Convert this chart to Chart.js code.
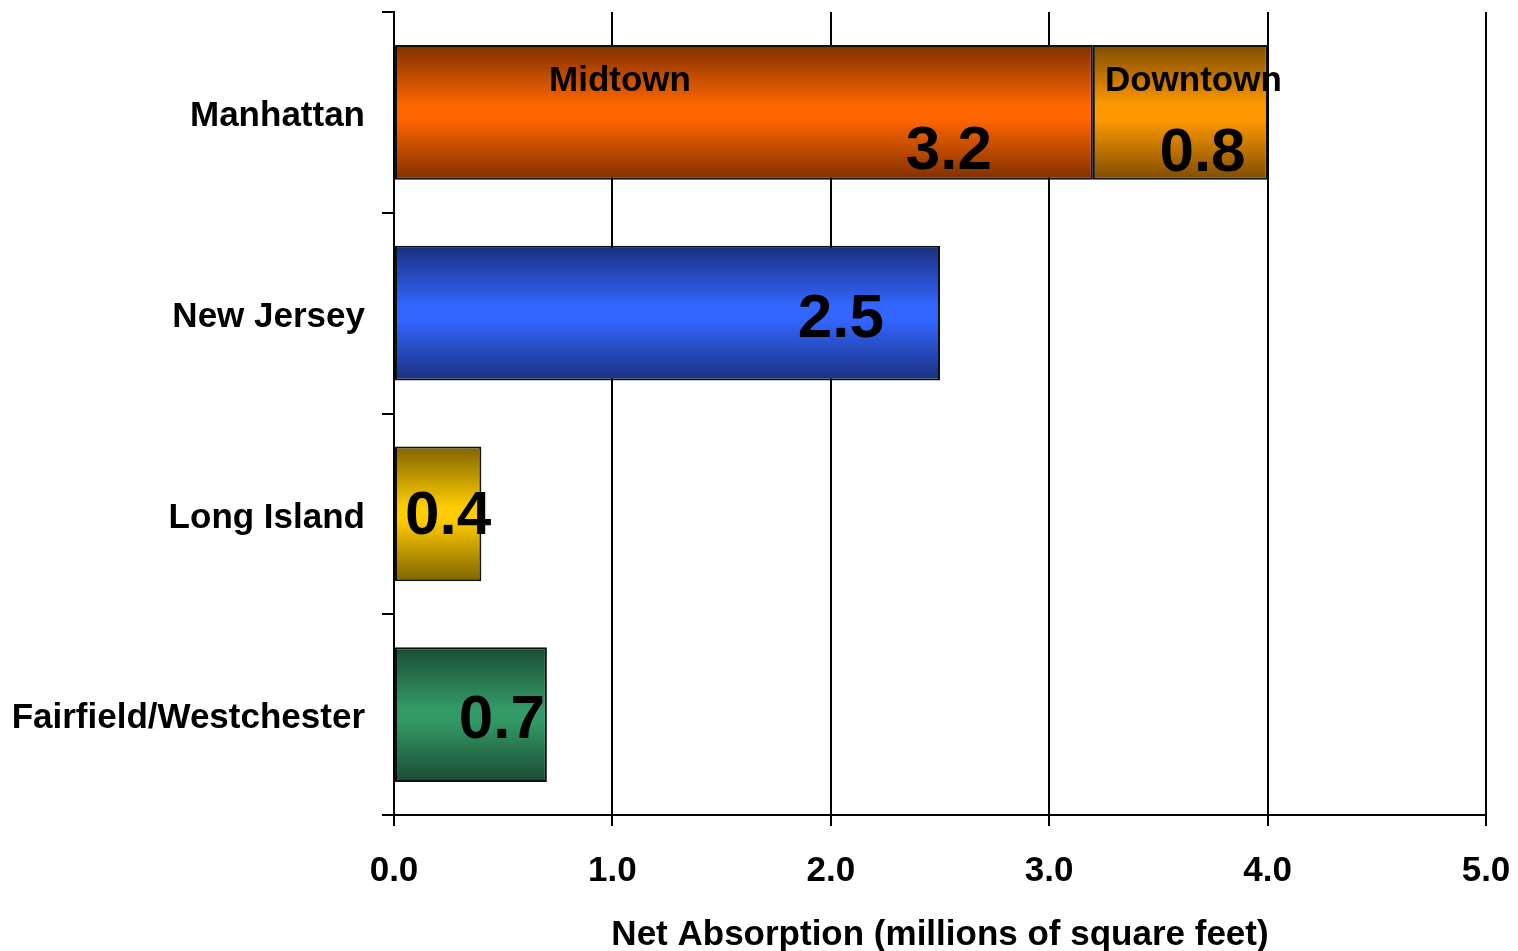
<!DOCTYPE html>
<html>
<head>
<meta charset="utf-8">
<title>Net Absorption</title>
<script src="https://cdn.jsdelivr.net/npm/chart.js@4.4.1/dist/chart.umd.min.js"></script>
<style>
  html, body { margin: 0; padding: 0; background: #fff; }
  canvas { display: block; }
</style>
</head>
<body>
<canvas id="absorptionChart" width="1518" height="951"></canvas>
<script>
// Net absorption by market, millions of square feet
const regions = ['Manhattan', 'New Jersey', 'Long Island', 'Fairfield/Westchester'];
const mainValues = [3.2, 2.5, 0.4, 0.7];        // Manhattan here is Midtown
const downtownValues = [0.8, null, null, null];  // only Manhattan has a Downtown part
const xTicks = [0, 1, 2, 3, 4, 5];

const FONT = '"Liberation Sans", Arial, Helvetica, sans-serif';
const BAR_PCT = 0.67;

// [edge, middle] colours of the vertical shading
const mainShades = [
  ['#7f3000', '#ff6600'],
  ['#1a307f', '#3366ff'],
  ['#806400', '#ffcc00'],
  ['#1a4c32', '#339966']
];
const downtownShade = ['#7f4c00', '#ff9900'];

const shade = (context, colors) => {
  const chart = context.chart;
  const y = chart.scales.y;
  if (!chart.chartArea || !y) return colors[1];
  const cy = y.getPixelForValue(context.dataIndex);
  const half = (y.height / regions.length) * BAR_PCT / 2;
  const g = chart.ctx.createLinearGradient(0, cy - half, 0, cy + half);
  g.addColorStop(0, colors[0]);
  g.addColorStop(0.45, colors[1]);
  g.addColorStop(0.55, colors[1]);
  g.addColorStop(1, colors[0]);
  return g;
};

// text drawn on the bars: which bar, what text, where relative to it
const barTexts = [
  { ds: 0, i: 0, text: 'Midtown', size: 35, from: 'start', dx: 154, dy: -31, align: 'left' },
  { ds: 1, i: 0, text: 'Downtown', size: 35, from: 'start', dx: 12, dy: -31, align: 'left' },
  { ds: 0, i: 0, value: true, size: 62, from: 'end', dx: -101, dy: 40, align: 'right' },
  { ds: 1, i: 0, value: true, size: 62, from: 'end', dx: -22, dy: 42, align: 'right' },
  { ds: 0, i: 1, value: true, size: 62, from: 'end', dx: -56, dy: 7, align: 'right' },
  { ds: 0, i: 2, value: true, size: 62, from: 'start', dx: 10, dy: 3, align: 'left' },
  { ds: 0, i: 3, value: true, size: 62, from: 'end', dx: -2, dy: 6, align: 'right' }
];

const barTextPlugin = {
  id: 'barText',
  afterDatasetsDraw(chart) {
    const ctx = chart.ctx;
    ctx.save();
    ctx.fillStyle = '#000';
    ctx.textBaseline = 'middle';
    barTexts.forEach(t => {
      const bar = chart.getDatasetMeta(t.ds).data[t.i];
      if (!bar) return;
      const x = (t.from === 'end' ? bar.x : bar.base) + t.dx;
      const value = chart.data.datasets[t.ds].data[t.i];
      ctx.font = 'bold ' + t.size + 'px ' + FONT;
      ctx.textAlign = t.align;
      ctx.fillText(t.value ? value.toFixed(1) : t.text, x, bar.y + t.dy);
    });
    ctx.restore();
  }
};

new Chart(document.getElementById('absorptionChart'), {
  type: 'bar',
  data: {
    labels: regions,
    datasets: [
      {
        label: 'Midtown',
        data: mainValues,
        backgroundColor: c => shade(c, mainShades[c.dataIndex]),
        borderColor: '#111',
        borderWidth: 2,
        borderSkipped: false
      },
      {
        label: 'Downtown',
        data: downtownValues,
        backgroundColor: c => shade(c, downtownShade),
        borderColor: '#111',
        borderWidth: 2,
        borderSkipped: false
      }
    ]
  },
  options: {
    indexAxis: 'y',
    responsive: false,
    animation: false,
    barPercentage: BAR_PCT,
    categoryPercentage: 1,
    layout: { padding: { top: 12, right: 32, left: 0, bottom: 0 } },
    plugins: {
      legend: { display: false },
      tooltip: { enabled: false }
    },
    scales: {
      x: {
        stacked: true,
        min: 0,
        max: 5,
        afterBuildTicks: scale => { scale.ticks = xTicks.map(v => ({ value: v })); },
        afterFit: scale => {
          scale.height = 136;
          scale.paddingLeft = 0;
          scale.paddingRight = 0;
        },
        ticks: {
          color: '#000',
          font: { family: FONT, size: 35, weight: 'bold' },
          padding: 24,
          maxRotation: 0,
          callback: v => Number(v).toFixed(1)
        },
        grid: { color: '#000', lineWidth: 2, tickLength: 11 },
        border: { color: '#000', width: 2 },
        title: {
          display: true,
          text: 'Net Absorption (millions of square feet)',
          color: '#000',
          font: { family: FONT, size: 35, weight: 'bold', lineHeight: 0.9 },
          padding: { top: 0, bottom: 0 }
        }
      },
      y: {
        stacked: true,
        afterFit: scale => {
          scale.width = 394;
          scale.paddingTop = 0;
          scale.paddingBottom = 0;
        },
        ticks: {
          color: '#000',
          font: { family: FONT, size: 35, weight: 'bold' },
          padding: 17,
          labelOffset: 4
        },
        grid: { offset: true, drawOnChartArea: false, color: '#000', lineWidth: 2, tickLength: 12 },
        border: { color: '#000', width: 2 }
      }
    }
  },
  plugins: [barTextPlugin]
});
</script>
</body>
</html>
